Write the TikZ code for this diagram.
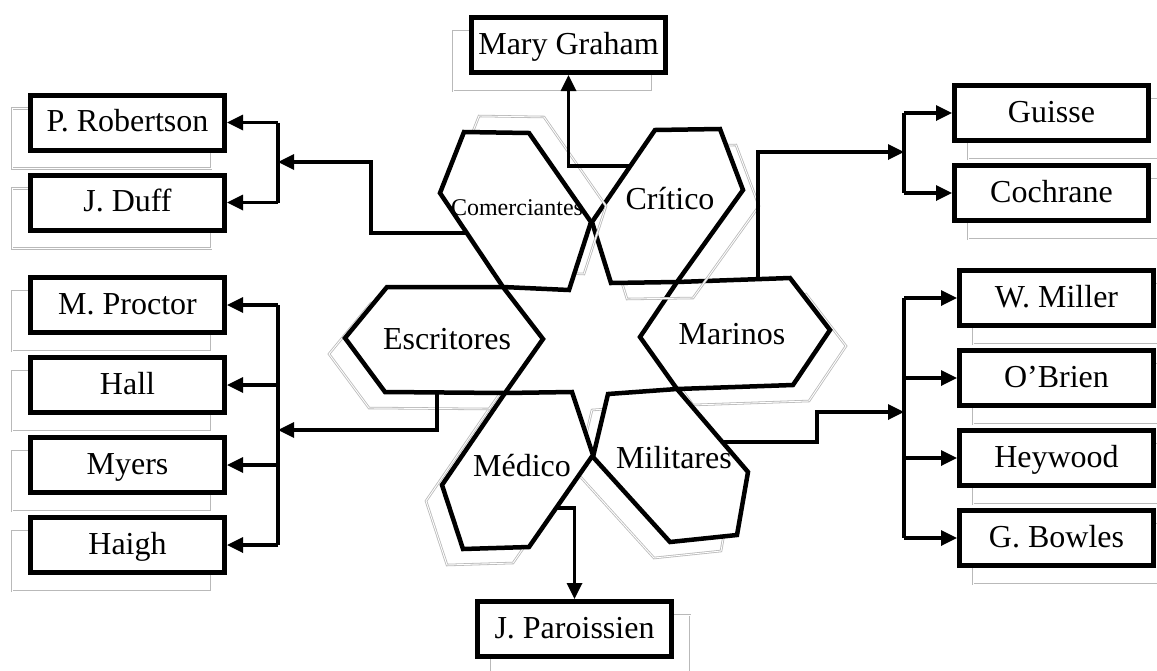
\documentclass[tikz,border=0pt]{standalone}
\usepackage{fontspec}
\setmainfont{Liberation Serif}
\usetikzlibrary{arrows.meta,positioning,backgrounds}

\tikzset{
  namebox/.style={draw, fill=white, line width=5pt, minimum width=194pt, minimum height=55pt,
    inner sep=0pt, text height=25pt, text depth=7pt},
  hexa/.style={draw, fill=white, line width=4.5pt, line join=miter},
  ghost/.style={draw=gray!55, double=white, double distance=0.9pt, line width=0.8pt},
  hexlabel/.style={text height=25pt, text depth=7pt, inner sep=0pt},
  link/.style={line width=3.3pt},
  linkto/.style={line width=3.3pt, -{Triangle[length=16pt,width=15pt]}},
}

\begin{document}
\begin{tikzpicture}[x=1pt, y=-1pt, node distance=80pt, font=\fontsize{32}{36}\selectfont]
\useasboundingbox (0,0) rectangle (1157,670);

\draw[ghost, shift={(16,16)}] (640,337) -- (677,282) -- (790,278) -- (830,330) -- (793,385) -- (677,389) -- cycle;
\draw[hexa] (640,337) -- (677,282) -- (790,278) -- (830,330) -- (793,385) -- (677,389) -- cycle;
\draw[ghost, shift={(-16,16)}] (608,394) -- (677,389) -- (748,472) -- (737,535) -- (670,542) -- (593,457) -- cycle;
\draw[hexa] (608,394) -- (677,389) -- (748,472) -- (737,535) -- (670,542) -- (593,457) -- cycle;
\draw[ghost, shift={(-16,16)}] (505,393) -- (572,392) -- (593,455) -- (529,547) -- (463,549) -- (442,485) -- cycle;
\draw[hexa] (505,393) -- (572,392) -- (593,455) -- (529,547) -- (463,549) -- (442,485) -- cycle;
\draw[ghost, shift={(-16,16)}] (345,338) -- (387,287) -- (503,287) -- (543,339) -- (505,393) -- (385,392) -- cycle;
\draw[hexa] (345,338) -- (387,287) -- (503,287) -- (543,339) -- (505,393) -- (385,392) -- cycle;
\draw[ghost, shift={(16,16)}] (655,130) -- (720,129) -- (743,190) -- (677,282) -- (611,283) -- (592,222) -- cycle;
\draw[hexa] (655,130) -- (720,129) -- (743,190) -- (677,282) -- (611,283) -- (592,222) -- cycle;
\draw[ghost, shift={(15,-16)}] (464,132) -- (529,133) -- (591,222) -- (569,290) -- (503,287) -- (440,193) -- cycle;
\draw[hexa] (464,132) -- (529,133) -- (591,222) -- (569,290) -- (503,287) -- (440,193) -- cycle;

\node[hexlabel, font=\fontsize{24}{28}\selectfont, text height=19pt, text depth=5pt] (comlab) at (517,208) {Comerciantes};
\node[hexlabel] (crilab) at (670,200) {Crítico};
\node[hexlabel] (esclab) at (447,340) {Escritores};
\node[hexlabel] (marlab) at (732,335) {Marinos};
\node[hexlabel] (medlab) at (522,467) {Médico};
\node[hexlabel] (millab) at (674,459) {Militares};

\node[namebox] (rob) at (127.5,122.5) {P. Robertson};
\node[namebox, below of=rob] (duff) {J. Duff};
\node[namebox] (proc) at (127.5,305) {M. Proctor};
\node[namebox, below of=proc] (hall) {Hall};
\node[namebox, below of=hall] (myer) {Myers};
\node[namebox, below of=myer] (haig) {Haigh};
\node[namebox] (gui) at (1051.5,113) {Guisse};
\node[namebox, below of=gui] (coc) {Cochrane};
\node[namebox] (wmil) at (1056.5,298) {W. Miller};
\node[namebox, below of=wmil] (obri) {O’Brien};
\node[namebox, below of=obri] (heyw) {Heywood};
\node[namebox, below of=heyw] (bowl) {G. Bowles};
\node[namebox] (mary) at (568.5,45) {Mary Graham};
\node[namebox] (paro) at (574.5,629) {J. Paroissien};

\begin{scope}[on background layer]
\foreach \b in {rob,duff,proc,hall,myer,haig,mary}
  \draw[ghost] ([shift={(-16,16)}]\b.south west) rectangle ([shift={(-16,16)}]\b.north east);
\foreach \b in {gui,coc,wmil,obri,heyw,bowl,paro}
  \draw[ghost] ([shift={(16,16)}]\b.south west) rectangle ([shift={(16,16)}]\b.north east);
\end{scope}

\coordinate (lbar) at (278,0);
\coordinate (rbar) at (904,0);
\coordinate (comout) at (467,233);
\coordinate (comknee) at (371,162);
\coordinate (escout) at (437,393);
\coordinate (escknee) at (437,430);
\coordinate (marout) at (758,280);
\coordinate (marknee) at (758,152);
\coordinate (milout) at (722,442);
\coordinate (milknee) at (817,412);
\coordinate (criout) at (629,166);
\coordinate (medout) at (557,508);

\draw[link] (rob.east -| lbar) -- (duff.east -| lbar);
\foreach \b in {rob,duff}
  \draw[linkto] (\b.east -| lbar) -- (\b.east);
\draw[linkto] (comout) -| (comknee) -- (comknee -| lbar);

\draw[link] (proc.east -| lbar) -- (haig.east -| lbar);
\foreach \b in {proc,hall,myer,haig}
  \draw[linkto] (\b.east -| lbar) -- (\b.east);
\draw[linkto] (escout) -- (escknee) -- (escknee -| lbar);

\draw[link] (gui.west -| rbar) -- (coc.west -| rbar);
\foreach \b in {gui,coc}
  \draw[linkto] (\b.west -| rbar) -- (\b.west);
\draw[linkto] (marout) -- (marknee) -- (marknee -| rbar);

\draw[link] (wmil.west -| rbar) -- (bowl.west -| rbar);
\foreach \b in {wmil,obri,heyw,bowl}
  \draw[linkto] (\b.west -| rbar) -- (\b.west);
\draw[linkto] (milout) -| (milknee) -- (milknee -| rbar);

\draw[linkto] (criout) -| (mary.south);
\draw[linkto] (medout) -| (paro.north);
\end{tikzpicture}
\end{document}
